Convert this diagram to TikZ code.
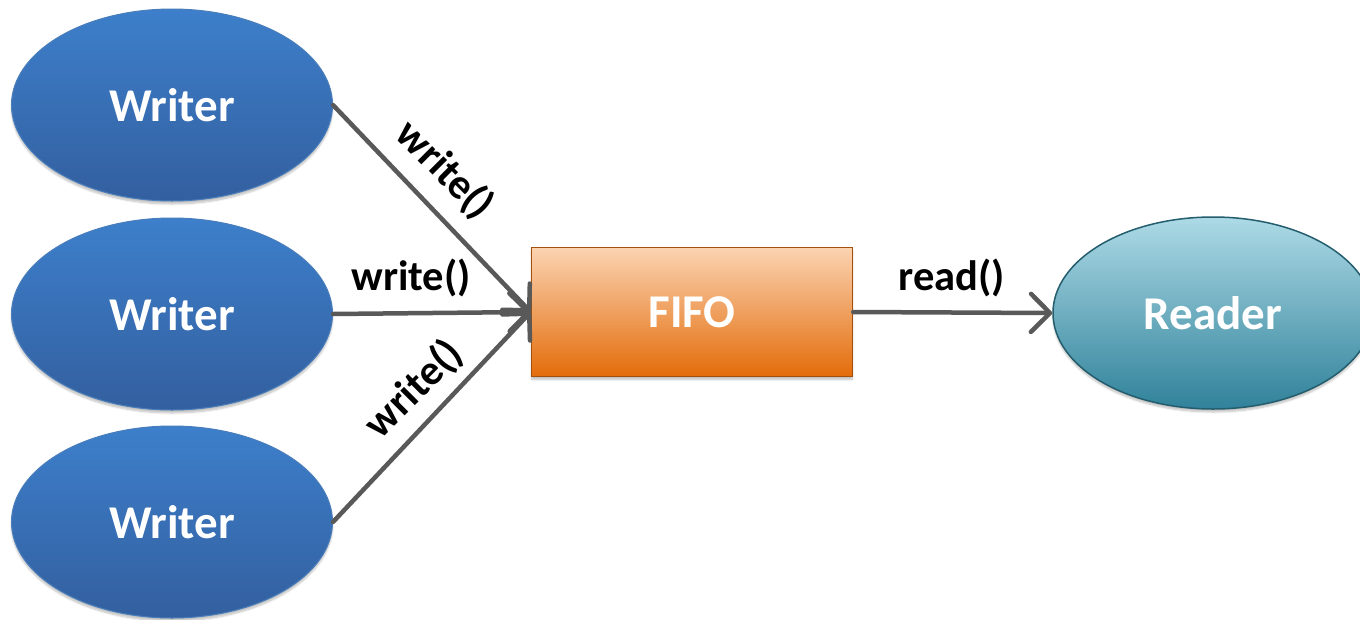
\documentclass[tikz,border=0pt]{standalone}
\usepackage{fontspec}
\setmainfont{Carlito}
\usetikzlibrary{arrows.meta,shadows.blur,shapes.geometric}
\definecolor{wtop}{HTML}{3D7FCB}
\definecolor{wbot}{HTML}{335F9F}
\definecolor{wline}{HTML}{4A7EBB}
\definecolor{rtop}{HTML}{ADDAE6}
\definecolor{rbot}{HTML}{30829A}
\definecolor{rline}{HTML}{245E6E}
\definecolor{ftop}{HTML}{FBD3B2}
\definecolor{fbot}{HTML}{E36C0A}
\definecolor{fline}{HTML}{A5500A}
\definecolor{conn}{HTML}{595959}
\tikzset{
  shade/.style={blur shadow={shadow xshift=0pt,shadow yshift=-3pt,shadow blur steps=6,shadow opacity=25}},
  big/.style={font=\bfseries\fontsize{47}{47}\selectfont},
  writer/.style={ellipse,minimum width=321pt,minimum height=192pt,draw=wline,line width=1pt,
    top color=wtop,bottom color=wbot,text=white,big,shade},
  reader/.style={ellipse,minimum width=320pt,minimum height=192pt,draw=rline,line width=1.5pt,
    top color=rtop,bottom color=rbot,text=white,big,shade},
  fifo/.style={rectangle,minimum width=321pt,minimum height=129pt,draw=fline,line width=1.5pt,
    top color=ftop,bottom color=fbot,text=white,big,shade},
  conn/.style={draw=conn,line width=4.5pt,line cap=round,
    -{Straight Barb[length=19pt,width=38pt,line width=4.5pt,round]}},
  lbl/.style={font=\bfseries\fontsize{42.5}{42.5}\selectfont,text=black,inner sep=0pt}
}
\begin{document}
\begin{tikzpicture}[x=1pt,y=-1pt]
\useasboundingbox (0,0) rectangle (1360,619);
\node[writer] (w1) at (172,105) {Writer};
\node[writer] (w2) at (172,314) {Writer};
\node[writer] (w3) at (172,522) {Writer};
\node[fifo] (f) at (692,312) {FIFO};
\node[reader] (r) at (1213,313) {Reader};
\draw[conn] (w1.east) -- (f.west);
\draw[conn] (w2.east) -- (f.west);
\draw[conn] (w3.east) -- (f.west);
\draw[conn] (f.east) -- (r.west);
\node[lbl,rotate=-45] (l1) at (445,170) {write()};
\node[lbl] (l2) at (411,278) {write()};
\node[lbl,rotate=45] (l3) at (414,389) {write()};
\node[lbl] (l4) at (952,278) {read()};
\end{tikzpicture}
\end{document}
